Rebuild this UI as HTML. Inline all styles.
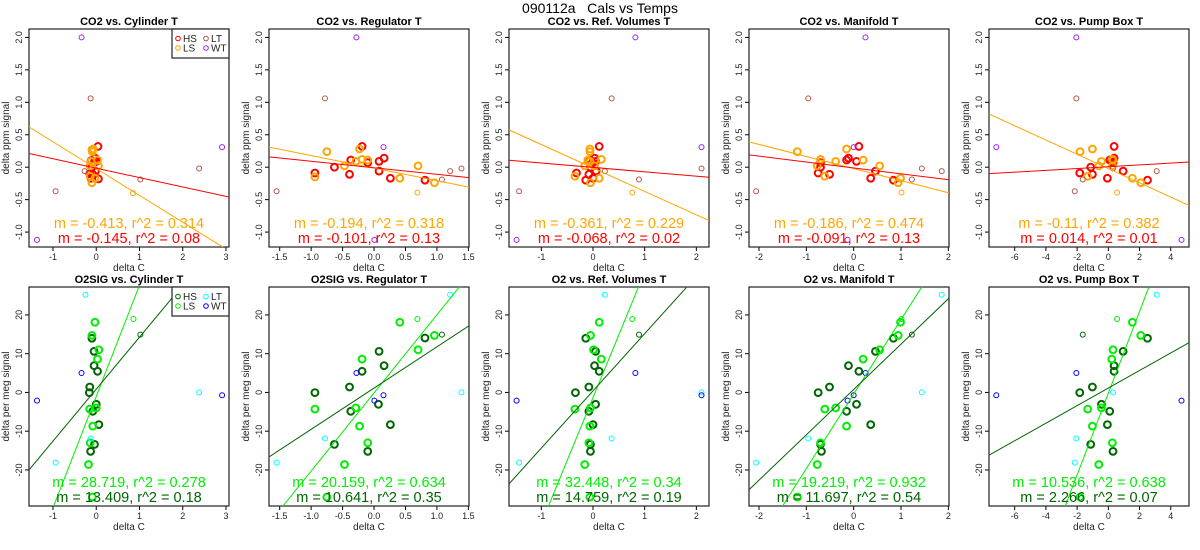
<!DOCTYPE html>
<html><head><meta charset="utf-8"><style>
html,body{margin:0;padding:0;background:#fff;width:1200px;height:550px;overflow:hidden;}
svg{display:block;font-family:"Liberation Sans",sans-serif;}
</style></head><body>
<svg id="chart" width="1200" height="550" viewBox="0 0 1200 550">
<text x="600" y="13" text-anchor="middle" font-size="14" style="white-space:pre" xml:space="preserve">090112a   Cals vs Temps</text>
</svg>
<script>
// ---------- Data (x = delta C, y = signal) ----------
// top row CO2
const t1HS=[[0.04,0.32],[-0.03,0.14],[-0.12,0.1],[-0.15,-0.1],[-0.12,-0.17],[0.05,-0.18],[-0.02,-0.06],[-0.05,0.07],[-0.1,0],[0,0.09],[-0.08,-0.11]];
const t1LS=[[-0.1,0.27],[-0.09,0.24],[-0.07,0.28],[-0.12,0.09],[0.03,0.11],[0.05,0.02],[-0.14,0.02],[-0.1,-0.24],[-0.14,-0.14],[-0.03,-0.17]];
const t1LSt=[[0.85,-0.4]];
const t1LT=[[-0.94,-0.37],[-0.13,1.06],[-0.27,-0.06],[1.02,-0.19],[2.38,-0.02]];
const t1WT=[[-0.34,2.0],[2.91,0.31],[-1.37,-1.12]];
const t2HS=[[-0.94,-0.09],[-0.63,0],[-0.39,-0.11],[-0.37,0.11],[-0.19,0.32],[-0.1,0.07],[0.08,0.09],[0.08,-0.06],[0.16,0.14],[0.26,-0.17],[0.81,-0.2]];
const t2LS=[[-0.94,-0.15],[-0.75,0.24],[-0.47,0.02],[-0.29,0.09],[-0.23,0.28],[-0.19,0.12],[-0.1,0.11],[0.41,-0.17],[0.7,0.02],[0.96,-0.24]];
const t2LSt=[[0.69,-0.39]];
const t2LT=[[-1.55,-0.37],[-0.78,1.06],[1.08,-0.19],[1.21,-0.06],[1.39,-0.02]];
const t2WT=[[-0.28,2.0],[0.15,0.31],[0.005,-1.12]];
const t3HS=[[0.12,0.32],[0.03,0.14],[0.05,0.09],[-0.05,0],[-0.32,-0.09],[-0.08,-0.11],[0.06,-0.06],[-0.14,-0.2],[0,-0.17],[-0.06,0.11],[-0.01,0.07]];
const t3LS=[[-0.06,0.28],[-0.06,0.24],[-0.1,0.11],[0.16,0.12],[-0.16,0.02],[0.03,0.02],[-0.35,-0.14],[0.12,-0.17],[-0.05,-0.24],[-0.06,0.09]];
const t3LSt=[[0.76,-0.39]];
const t3LT=[[-1.43,-0.37],[0.36,1.06],[0.23,-0.06],[0.89,-0.19],[2.1,-0.02]];
const t3WT=[[0.82,2.0],[2.1,0.31],[-1.48,-1.12]];
const t4HS=[[0.11,0.32],[-0.11,0.14],[-0.15,0.11],[0.06,0.09],[-0.7,0.07],[-0.7,0],[-0.75,-0.09],[-0.51,-0.11],[0.46,-0.06],[0.36,-0.17],[0.84,-0.2]];
const t4LS=[[-0.15,0.28],[-1.19,0.24],[0.2,0.11],[-0.38,0.09],[-0.7,0.12],[-0.77,0.02],[0.55,0.02],[-0.61,-0.14],[0.99,-0.17],[0.94,-0.24]];
const t4LSt=[[1.01,-0.39]];
const t4LT=[[-2.06,-0.37],[-0.96,1.06],[1.23,-0.19],[1.44,-0.02],[1.86,-0.06]];
const t4WT=[[0.25,2.0],[0,0.31],[-0.13,-1.12]];
const t5HS=[[0.37,0.32],[0.37,0.14],[0.22,0.09],[0.09,0.11],[-1.13,0],[-1.83,-0.09],[-1.02,-0.11],[0.95,-0.06],[-0.06,-0.17],[2.51,-0.2],[0.3,0.07]];
const t5LS=[[-1.02,0.28],[-1.81,0.24],[-0.44,0.09],[0.26,0.12],[-0.61,0.02],[0.26,0.02],[-1.32,-0.14],[1.54,-0.17],[2.08,-0.24],[0.3,0.11]];
const t5LSt=[[0.56,-0.39]];
const t5LT=[[-2.15,-0.37],[-2.05,1.06],[-1.64,-0.19],[0.3,-0.02],[3.1,-0.06]];
const t5WT=[[-2.05,2.0],[-7.18,0.31],[4.69,-1.12]];
// bottom row O2
const b1HS=[[-0.1,13.97],[-0.05,10.6],[-0.05,6.9],[0.03,5.45],[-0.15,1.4],[-0.16,-0.05],[0,-3.06],[-0.08,-4.87],[0.06,-8.3],[-0.04,-13.4],[-0.13,-15.2]];
const b1LS=[[-0.03,18.1],[-0.1,14.7],[0.06,11.0],[0.03,8.6],[-0.15,-4.3],[0,-4.0],[-0.08,-8.7],[-0.14,-13.0],[-0.18,-18.6],[-0.09,-27.0]];
const b1LSt=[[0.86,18.95]];
const b1HSt=[[1.02,14.9]];
const b1LT=[[-0.25,25.2],[-0.94,-18.1],[-0.13,-11.9],[2.38,0]];
const b1WT=[[-0.34,5.0],[2.91,-0.74],[-1.37,-2.1]];
const b2HS=[[-0.94,-0.05],[-0.39,1.41],[-0.19,5.45],[0.08,10.6],[0.16,6.9],[-0.37,-4.87],[0.07,-3.06],[0.26,-8.3],[-0.63,-13.4],[-0.1,-15.2],[0.81,14.05]];
const b2LS=[[-0.94,-4.3],[-0.29,-4.0],[-0.19,8.6],[-0.23,-8.7],[-0.1,-13.0],[-0.47,-18.6],[-0.75,-27.0],[0.41,18.1],[0.7,11.0],[0.96,14.7]];
const b2LSt=[[0.69,18.95]];
const b2HSt=[[1.08,14.9]];
const b2LT=[[-1.55,-18.1],[-0.78,-11.9],[1.21,25.2],[1.39,0]];
const b2WT=[[-0.28,5.0],[0.15,-0.74],[0.005,-2.1]];
const b3HS=[[-0.14,13.97],[0.05,10.6],[0.03,6.9],[0.12,5.45],[-0.08,1.4],[-0.34,-0.05],[0.05,-3.06],[-0.08,-4.87],[0,-8.3],[-0.05,-13.4],[-0.05,-15.2]];
const b3LS=[[0.12,18.1],[-0.05,14.7],[0.01,11.0],[0.16,8.6],[-0.35,-4.3],[-0.05,-4.0],[-0.06,-8.7],[-0.08,-13.0],[-0.16,-18.6],[-0.06,-27.0]];
const b3LSt=[[0.76,18.95]];
const b3HSt=[[0.89,14.9]];
const b3LT=[[0.23,25.2],[-1.43,-18.1],[0.36,-11.9],[2.1,0]];
const b3WT=[[0.82,5.0],[2.1,-0.74],[-1.48,-2.1]];
const b4HS=[[0.84,13.97],[0.46,10.6],[-0.11,6.9],[0.11,5.45],[-0.51,1.4],[-0.75,-0.05],[0.06,-3.06],[-0.15,-4.87],[0.36,-8.3],[-0.7,-13.4],[-0.68,-15.2]];
const b4LS=[[0.99,18.1],[0.94,14.7],[0.55,11.0],[0.2,8.6],[-0.61,-4.3],[-0.38,-4.0],[-0.15,-8.7],[-0.7,-13.0],[-0.77,-18.6],[-1.19,-27.0]];
const b4LSt=[[1.01,18.95]];
const b4HSt=[[1.23,14.9]];
const b4LT=[[1.86,25.2],[-2.06,-18.1],[-0.96,-11.9],[1.44,0]];
const b4WT=[[0.25,5.0],[0,-0.74],[-0.13,-2.1]];
const b5HS=[[2.51,13.97],[0.95,10.6],[0.37,6.9],[0.37,5.45],[-1.02,1.4],[-1.83,-0.05],[-0.44,-3.06],[0.09,-4.87],[-0.06,-8.3],[-1.13,-13.4],[0.3,-15.2]];
const b5LS=[[1.54,18.1],[2.08,14.7],[0.3,11.0],[0.22,8.6],[-1.32,-4.3],[-0.44,-4.0],[-1.02,-8.7],[0.26,-13.0],[-0.61,-18.6],[-1.81,-27.0]];
const b5LSt=[[0.56,18.95]];
const b5HSt=[[-1.64,14.9]];
const b5LT=[[3.1,25.2],[-2.15,-18.1],[-2.05,-11.9],[0.3,0]];
const b5WT=[[-2.05,5.0],[-7.18,-0.74],[4.69,-2.1]];

// regression fits [slope, intercept, r2]
const topFitLS=[[-0.413,-0.022,0.314],[-0.194,-0.014,0.318],[-0.361,-0.012,0.229],[-0.186,-0.021,0.474],[-0.11,-0.021,0.382]];
const topFitHS=[[-0.145,-0.015,0.08],[-0.101,-0.009,0.13],[-0.068,-0.003,0.02],[-0.091,-0.011,0.13],[0.014,0.007,0.01]];
const botFitLS=[[28.719,-1.05,0.278],[20.159,-0.13,0.634],[32.448,-1.35,0.34],[19.219,-0.44,0.932],[10.536,-0.2,0.638]];
const botFitHS=[[13.409,0.85,0.18],[10.641,1.12,0.35],[14.759,0.4,0.19],[11.697,0.76,0.54],[2.266,1.13,0.07]];

const xLims=[[-1.555,3.07],[-1.67,1.51],[-1.626,2.245],[-2.211,2.014],[-7.647,5.17]];
const xTickVals=[[-1,0,1,2,3],[-1.5,-1,-0.5,0,0.5,1,1.5],[-1,0,1,2],[-2,-1,0,1,2],[-6,-4,-2,0,2,4]];
const xTickLabels=[["-1","0","1","2","3"],["-1.5","-1.0","-0.5","0.0","0.5","1.0","1.5"],["-1","0","1","2"],["-2","-1","0","1","2"],["-6","-4","-2","0","2","4"]];
const topTitles=["CO2 vs. Cylinder T","CO2 vs. Regulator T","CO2 vs. Ref. Volumes T","CO2 vs. Manifold T","CO2 vs. Pump Box T"];
const botTitles=["O2SIG vs. Cylinder T","O2SIG vs. Regulator T","O2 vs. Ref. Volumes T","O2 vs. Manifold T","O2 vs. Pump Box T"];
const topYTicks=[-1,-0.5,0,0.5,1,1.5,2];
const topYLabels=["-1.0","-0.5","0.0","0.5","1.0","1.5","2.0"];
const botYTicks=[-20,-10,0,10,20];
const botYLabels=["-20","-10","0","10","20"];

const topGroups=[[t1HS,t1LS,t1LSt,t1LT,t1WT],[t2HS,t2LS,t2LSt,t2LT,t2WT],[t3HS,t3LS,t3LSt,t3LT,t3WT],[t4HS,t4LS,t4LSt,t4LT,t4WT],[t5HS,t5LS,t5LSt,t5LT,t5WT]];
const botGroups=[[b1HS,b1LS,b1LSt,b1HSt,b1LT,b1WT],[b2HS,b2LS,b2LSt,b2HSt,b2LT,b2WT],[b3HS,b3LS,b3LSt,b3HSt,b3LT,b3WT],[b4HS,b4LS,b4LSt,b4HSt,b4LT,b4WT],[b5HS,b5LS,b5LSt,b5HSt,b5LT,b5WT]];

// styles (not data)
const topStyle=[{c:"#ff0000",t:1,n:"hs"},{c:"#ffa500",t:1,n:"ls"},{c:"#ffa500",t:0,n:"ls-thin"},{c:"#b4564a",t:0,n:"lt"},{c:"#a020f0",t:0,n:"wt"}];
const botStyle=[{c:"#006400",t:1,n:"hs"},{c:"#00ee00",t:1,n:"ls"},{c:"#00ee00",t:0,n:"ls-thin"},{c:"#006400",t:0,n:"hs-thin"},{c:"#00ffff",t:0,n:"lt"},{c:"#0000ff",t:0,n:"wt"}];

const NS="http://www.w3.org/2000/svg";
const svg=document.getElementById('chart');
function mk(tag,attrs,parent,txt){const e=document.createElementNS(NS,tag);for(const k in attrs)e.setAttribute(k,attrs[k]);if(txt!==undefined)e.textContent=txt;(parent||svg).appendChild(e);return e;}
function fmt(v){return String(v);}

function drawPanel(col,row){
  const left=29+240*col,right=left+200;
  const top=row===0?29:287,bottom=row===0?247:506;
  const xl=xLims[col];
  const yl=row===0?[-1.23,2.13]:[-29.3,27.2];
  const xs=v=>left+(v-xl[0])/(xl[1]-xl[0])*(right-left);
  const ys=v=>bottom-(v-yl[0])/(yl[1]-yl[0])*(bottom-top);
  const pre=(row===0?'co2':'o2')+'-panel-'+(col+1);
  const g=mk('g',{});
  
  
  const cid='clip-'+pre;
  const cp=mk('clipPath',{id:cid},g);mk('rect',{x:left,y:top,width:right-left,height:bottom-top},cp);
  const title=mk('text',{x:(left+right)/2,y:top-4,'text-anchor':'middle','font-size':11,'font-weight':'bold'},g,(row===0?topTitles:botTitles)[col]);
  
  
  const xa=mk('g',{},g);
  
  
  const tv=xTickVals[col];
  mk('line',{x1:xs(tv[0]),x2:xs(tv[tv.length-1]),y1:bottom,y2:bottom,stroke:'#000','stroke-width':1},xa);
  tv.forEach((v,i)=>{
    mk('line',{x1:xs(v),x2:xs(v),y1:bottom,y2:bottom+4,stroke:'#000'},xa);
    const t=mk('text',{x:xs(v),y:bottom+13,'text-anchor':'middle','font-size':9,fill:'#222'},xa,xTickLabels[col][i]);
    
    
  });
  const xt=mk('text',{x:(left+right)/2,y:bottom+24,'text-anchor':'middle','font-size':10,fill:'#222'},g,'delta C');
  
  
  const ya=mk('g',{},g);
  
  
  const yv=row===0?topYTicks:botYTicks, yLab=row===0?topYLabels:botYLabels;
  mk('line',{x1:left,x2:left,y1:ys(yv[0]),y2:ys(yv[yv.length-1]),stroke:'#000'},ya);
  yv.forEach((v,i)=>{
    mk('line',{x1:left-4,x2:left,y1:ys(v),y2:ys(v),stroke:'#000'},ya);
    const t=mk('text',{x:0,y:0,'text-anchor':'middle','font-size':9,fill:'#222',transform:`translate(${left-7},${ys(v)}) rotate(-90)`},ya,yLab[i]);
    
    
  });
  const yt=mk('text',{x:0,y:0,'text-anchor':'middle','font-size':10,fill:'#222',transform:`translate(${left-20},${(top+bottom)/2}) rotate(-90)`},g,row===0?'delta ppm signal':'delta per meg signal');
  
  
  const box=mk('rect',{x:left,y:top,width:right-left,height:bottom-top,fill:'none',stroke:'#222','stroke-width':1.2},g);
  
  
  const groups=row===0?topGroups[col]:botGroups[col], sty=row===0?topStyle:botStyle;
  const pg=mk('g',{'clip-path':`url(#${cid})`},g);
  groups.forEach((arr,gi)=>{
    const s=sty[gi];
    arr.forEach(p=>{
      const c=mk('circle',{cx:xs(p[0]),cy:ys(p[1]),r:s.t?3.4:2.5,fill:'none',stroke:s.c,'stroke-width':s.t?2:1},pg);
      
      
    });
  });
  const fits=row===0?[topFitLS[col],topFitHS[col]]:[botFitLS[col],botFitHS[col]];
  const fcol=row===0?['#ffa500','#ff0000']:['#00ee00','#006400'];
  fits.forEach((f,i)=>{
    const l=mk('line',{x1:xs(xl[0]),y1:ys(f[0]*xl[0]+f[1]),x2:xs(xl[1]),y2:ys(f[0]*xl[1]+f[1]),stroke:fcol[i],'stroke-width':1},pg);
    
    
    const ty=row===0?(i===0?228:243):(i===0?487:502);
    const t=mk('text',{x:(left+right)/2,y:ty,'text-anchor':'middle','font-size':14.5,fill:fcol[i]},g,`m = ${fmt(f[0])}, r^2 = ${fmt(f[2])}`);
    
    
  });
  if(col===0){
    const lg=mk('g',{},g);
    
    
    mk('rect',{x:172,y:top,width:57,height:29,fill:'#fff',stroke:'#222','stroke-width':1.2},lg);
    const names=['HS','LS','LT','WT'];
    const cols=row===0?['#ff0000','#ffa500','#b4564a','#a020f0']:['#006400','#00ee00','#00ffff','#0000ff'];
    names.forEach((n,i)=>{
      const cx=i<2?178:206, cy=top+(i%2===0?9.5:19);
      const e=mk('g',{},lg);
      
      
      mk('circle',{cx:cx,cy:cy,r:2.3,fill:'none',stroke:cols[i],'stroke-width':1},e);
      mk('text',{x:cx+5,y:cy+3.5,'font-size':10,fill:'#222'},e,n);
    });
  }
}
for(let r=0;r<2;r++)for(let c=0;c<5;c++)drawPanel(c,r);
</script>
</body></html>
